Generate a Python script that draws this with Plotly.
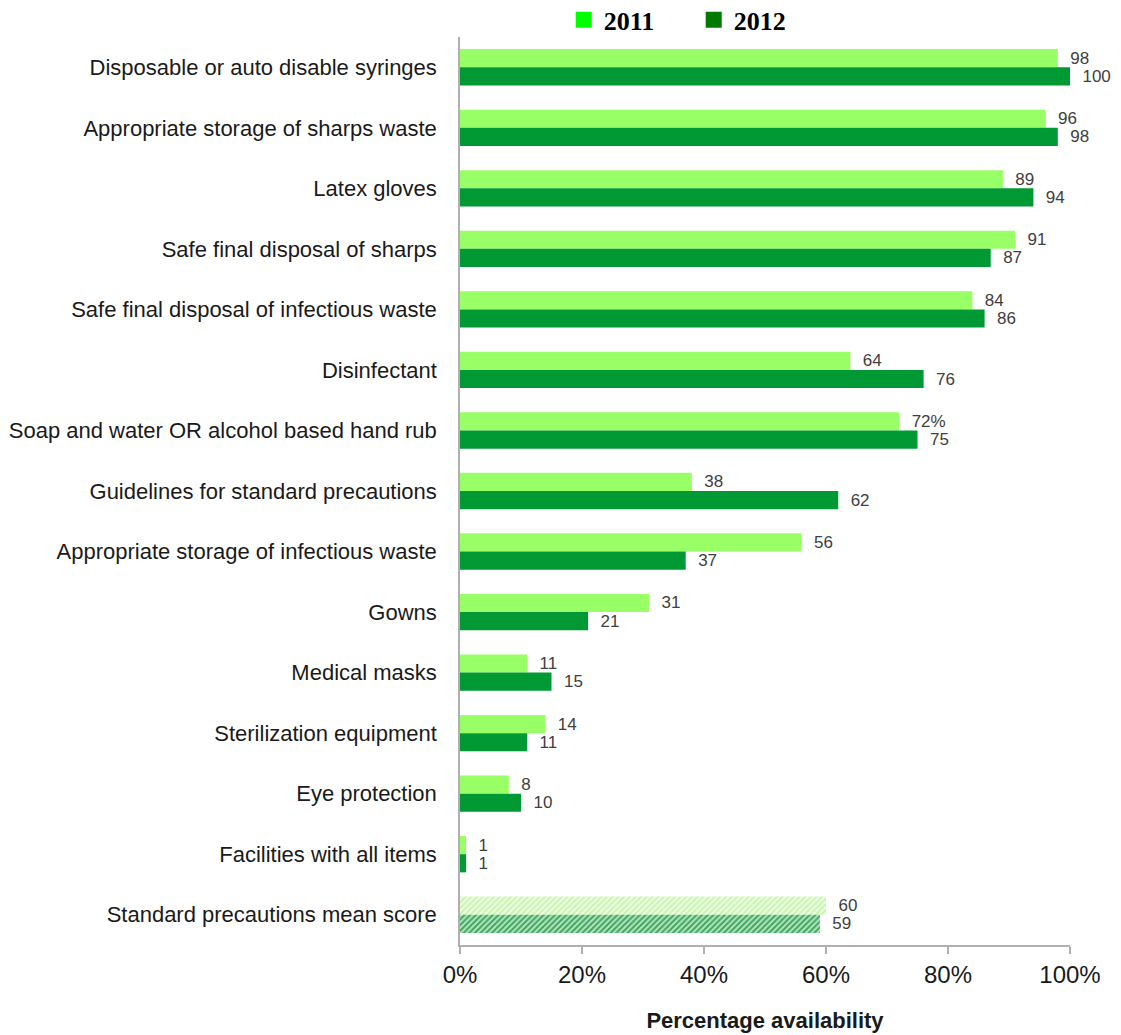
import plotly.graph_objects as go

categories = [
    "Disposable or auto disable syringes",
    "Appropriate storage of sharps waste",
    "Latex gloves",
    "Safe final disposal of sharps",
    "Safe final disposal of infectious waste",
    "Disinfectant",
    "Soap and water OR alcohol based hand rub",
    "Guidelines for standard precautions",
    "Appropriate storage of infectious waste",
    "Gowns",
    "Medical masks",
    "Sterilization equipment",
    "Eye protection",
    "Facilities with all items",
    "Standard precautions mean score",
]
values_2011 = [98, 96, 89, 91, 84, 64, 72, 38, 56, 31, 11, 14, 8, 1, 60]
values_2012 = [100, 98, 94, 87, 86, 76, 75, 62, 37, 21, 15, 11, 10, 1, 59]
labels_2011 = ["98", "96", "89", "91", "84", "64", "72%", "38", "56", "31", "11", "14", "8", "1", "60"]
labels_2012 = ["100", "98", "94", "87", "86", "76", "75", "62", "37", "21", "15", "11", "10", "1", "59"]
x_ticks = [0, 20, 40, 60, 80, 100]
x_tick_labels = ["0%", "20%", "40%", "60%", "80%", "100%"]
series_names = ["2011", "2012"]

hatched = [c == "Standard precautions mean score" for c in categories]

col_2011 = "#99ff66"
col_2012 = "#009933"
hatch_fg_2011 = "#c4f7a8"
hatch_bg_2011 = "#f2fdeb"
hatch_fg_2012 = "#3aa85a"
hatch_bg_2012 = "#b9e3c4"

pad = "\u00a0\u00a0"

fig = go.Figure()

def bar_trace(name, vals, labels, color, fg, bg):
    return go.Bar(
        name=name,
        y=categories,
        x=vals,
        orientation="h",
        text=[pad + s for s in labels],
        textposition="outside",
        textfont=dict(family="Liberation Sans, Arial, sans-serif", size=17, color="#404040"),
        constraintext="none",
        cliponaxis=False,
        showlegend=False,
        marker=dict(
            color=color,
            line=dict(width=0),
            pattern=dict(
                shape=["/" if h else "" for h in hatched],
                fgcolor=[fg if h else color for h in hatched],
                bgcolor=[bg if h else color for h in hatched],
                size=4,
                solidity=0.5,
                fillmode="replace",
            ),
        ),
        hoverinfo="x+y",
    )

fig.add_trace(bar_trace(series_names[0], values_2011, labels_2011, col_2011, hatch_fg_2011, hatch_bg_2011))
fig.add_trace(bar_trace(series_names[1], values_2012, labels_2012, col_2012, hatch_fg_2012, hatch_bg_2012))

# legend entries (legend swatches use brighter colours than the bars)
for name, c in zip(series_names, ["#00ff00", "#007a00"]):
    fig.add_trace(go.Scatter(
        x=[None], y=[None], mode="markers", name="<b>" + name + "</b>",
        marker=dict(symbol="square", size=16, color=c),
        showlegend=True, hoverinfo="skip",
    ))

# the page body adds an 8px offset, so the figure is 8px smaller than the window
fig.update_layout(
    width=1113,
    height=1027,
    margin=dict(l=452, r=51, t=29, b=90, autoexpand=False),
    paper_bgcolor="white",
    plot_bgcolor="white",
    barmode="group",
    bargap=0.4,
    bargroupgap=0,
    font=dict(family="Liberation Sans, Arial, sans-serif", color="#1a1a1a"),
    legend=dict(
        orientation="h",
        x=0.17, xanchor="left",
        y=1.019, yanchor="middle",
        font=dict(family="Liberation Serif, Times New Roman, serif", size=26, color="#000000"),
        itemwidth=30,
        entrywidth=85,
        entrywidthmode="pixels",
        tracegroupgap=0,
        bgcolor="rgba(0,0,0,0)",
    ),
    xaxis=dict(
        range=[0, 100],
        tickvals=x_ticks,
        ticktext=x_tick_labels,
        tickfont=dict(size=24, color="#1a1a1a"),
        showgrid=False,
        zeroline=False,
        showline=True,
        linecolor="#b0b0b0",
        linewidth=1.5,
        ticks="outside",
        ticklen=7,
        tickcolor="#b0b0b0",
        tickwidth=1.5,
        automargin=False,
        title=dict(
            text="<b>Percentage availability</b>",
            font=dict(size=22, color="#1a1a1a"),
            standoff=26,
        ),
    ),
    yaxis=dict(
        categoryorder="array",
        categoryarray=categories,
        autorange="reversed",
        tickfont=dict(size=22, color="#1a1a1a"),
        showgrid=False,
        zeroline=False,
        showline=True,
        linecolor="#b0b0b0",
        linewidth=1.5,
        ticks="",
        ticklabelstandoff=17,
        automargin=False,
    ),
)

fig.write_html("out.html")
